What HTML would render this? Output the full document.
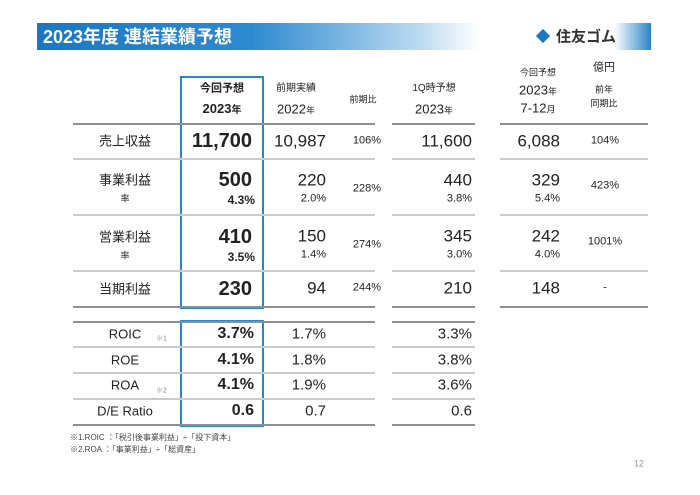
<!DOCTYPE html>
<html><head><meta charset="utf-8">
<style>
body{margin:0;width:700px;height:495px;background:#fff;position:relative;overflow:hidden;font-family:"Liberation Sans","Noto Sans CJK JP",sans-serif;color:#222}
.a{position:absolute;white-space:nowrap;transform:translateY(-50%);line-height:1}
.c{transform:translate(-50%,-50%);text-align:center}
.r{text-align:right}
.ln{position:absolute;height:1.5px;background:#8a9096}
.b{font-weight:bold}
</style></head><body>
<div style="position:absolute;left:37px;top:23px;width:614px;height:27px;background:linear-gradient(90deg,#1a78c2 0%,#2e8ad0 35%,#b9d9f0 62%,#fff 72%,#fff 94%,#2a84c8 100%)"></div>
<div class="a b" style="left:43px;top:37px;color:#fff;font-size:18px">2023年度 連結業績予想</div>
<div style="position:absolute;left:538px;top:31px;width:10px;height:10px;background:#1a78c2;transform:rotate(45deg)"></div>
<div class="a b" style="left:556px;top:37px;font-size:15px;color:#333">住友ゴム</div>

<div style="position:absolute;left:180px;top:76px;width:80px;height:229px;border:2px solid #2a86c6"></div>
<div style="position:absolute;left:180px;top:320px;width:80px;height:103px;border:2px solid #2a86c6"></div>

<div class="a c b" style="left:222px;top:89px;font-size:11px">今回予想</div>
<div class="a c b" style="left:222px;top:109px;font-size:13px">2023<span style="font-size:10px">年</span></div>
<div class="a c" style="left:296px;top:89px;font-size:10px">前期実績</div>
<div class="a c" style="left:296px;top:109px;font-size:13px">2022<span style="font-size:9px">年</span></div>
<div class="a c" style="left:363px;top:100px;font-size:9px">前期比</div>
<div class="a c" style="left:434px;top:89px;font-size:10px">1Q時予想</div>
<div class="a c" style="left:434px;top:109px;font-size:13px">2023<span style="font-size:9px">年</span></div>
<div class="a c" style="left:538px;top:73px;font-size:9px">今回予想</div>
<div class="a c" style="left:538px;top:90px;font-size:13px">2023<span style="font-size:9px">年</span></div>
<div class="a c" style="left:538px;top:108px;font-size:13px">7-12<span style="font-size:9px">月</span></div>
<div class="a c" style="left:604px;top:68px;font-size:11px">億円</div>
<div class="a c" style="left:604px;top:90px;font-size:9px">前年</div>
<div class="a c" style="left:604px;top:104px;font-size:9px">同期比</div>

<!-- lines upper -->
<div class="ln" style="left:73px;top:123px;width:302px"></div><div class="ln" style="left:392px;top:123px;width:83px"></div><div class="ln" style="left:500px;top:123px;width:148px"></div>
<div class="ln" style="left:73px;top:158px;width:302px;background:#c8ccd0"></div><div class="ln" style="left:392px;top:158px;width:83px;background:#c8ccd0"></div><div class="ln" style="left:500px;top:158px;width:148px;background:#c8ccd0"></div>
<div class="ln" style="left:73px;top:214px;width:302px;background:#c8ccd0"></div><div class="ln" style="left:392px;top:214px;width:83px;background:#c8ccd0"></div><div class="ln" style="left:500px;top:214px;width:148px;background:#c8ccd0"></div>
<div class="ln" style="left:73px;top:270px;width:302px;background:#c8ccd0"></div><div class="ln" style="left:392px;top:270px;width:83px;background:#c8ccd0"></div><div class="ln" style="left:500px;top:270px;width:148px;background:#c8ccd0"></div>
<div class="ln" style="left:73px;top:306px;width:302px"></div><div class="ln" style="left:392px;top:306px;width:83px"></div><div class="ln" style="left:500px;top:306px;width:148px"></div>

<!-- row: revenue -->
<div class="a c" style="left:125px;top:141px;font-size:13px">売上収益</div>
<div class="a r b" style="right:448px;top:141px;font-size:20px">11,700</div>
<div class="a r" style="right:374px;top:141px;font-size:17px">10,987</div>
<div class="a c" style="left:367px;top:141px;font-size:11px">106%</div>
<div class="a r" style="right:228px;top:141px;font-size:17px">11,600</div>
<div class="a r" style="right:140px;top:141px;font-size:17px">6,088</div>
<div class="a c" style="left:605px;top:141px;font-size:11px">104%</div>

<!-- business profit -->
<div class="a c" style="left:125px;top:180px;font-size:13px">事業利益</div>
<div class="a c" style="left:125px;top:199px;font-size:9px">率</div>
<div class="a r b" style="right:448px;top:180px;font-size:20px">500</div>
<div class="a r b" style="right:445px;top:200px;font-size:12px">4.3%</div>
<div class="a r" style="right:374px;top:180px;font-size:17px">220</div>
<div class="a r" style="right:374px;top:199px;font-size:11px">2.0%</div>
<div class="a c" style="left:367px;top:189px;font-size:11px">228%</div>
<div class="a r" style="right:228px;top:180px;font-size:17px">440</div>
<div class="a r" style="right:228px;top:199px;font-size:11px">3.8%</div>
<div class="a r" style="right:140px;top:180px;font-size:17px">329</div>
<div class="a r" style="right:140px;top:199px;font-size:11px">5.4%</div>
<div class="a c" style="left:605px;top:186px;font-size:11px">423%</div>

<!-- operating profit -->
<div class="a c" style="left:125px;top:237px;font-size:13px">営業利益</div>
<div class="a c" style="left:125px;top:256px;font-size:9px">率</div>
<div class="a r b" style="right:448px;top:237px;font-size:20px">410</div>
<div class="a r b" style="right:445px;top:257px;font-size:12px">3.5%</div>
<div class="a r" style="right:374px;top:236px;font-size:17px">150</div>
<div class="a r" style="right:374px;top:255px;font-size:11px">1.4%</div>
<div class="a c" style="left:367px;top:245px;font-size:11px">274%</div>
<div class="a r" style="right:228px;top:236px;font-size:17px">345</div>
<div class="a r" style="right:228px;top:255px;font-size:11px">3.0%</div>
<div class="a r" style="right:140px;top:236px;font-size:17px">242</div>
<div class="a r" style="right:140px;top:255px;font-size:11px">4.0%</div>
<div class="a c" style="left:605px;top:242px;font-size:11px">1001%</div>

<!-- net profit -->
<div class="a c" style="left:125px;top:289px;font-size:13px">当期利益</div>
<div class="a r b" style="right:448px;top:289px;font-size:20px">230</div>
<div class="a r" style="right:374px;top:288px;font-size:17px">94</div>
<div class="a c" style="left:367px;top:288px;font-size:11px">244%</div>
<div class="a r" style="right:228px;top:288px;font-size:17px">210</div>
<div class="a r" style="right:140px;top:288px;font-size:17px">148</div>
<div class="a c" style="left:605px;top:288px;font-size:11px">-</div>

<!-- lower table lines -->
<div class="ln" style="left:73px;top:321px;width:302px"></div><div class="ln" style="left:392px;top:321px;width:83px"></div>
<div class="ln" style="left:73px;top:346px;width:302px;background:#c8ccd0"></div><div class="ln" style="left:392px;top:346px;width:83px;background:#c8ccd0"></div>
<div class="ln" style="left:73px;top:372px;width:302px;background:#c8ccd0"></div><div class="ln" style="left:392px;top:372px;width:83px;background:#c8ccd0"></div>
<div class="ln" style="left:73px;top:398px;width:302px;background:#c8ccd0"></div><div class="ln" style="left:392px;top:398px;width:83px;background:#c8ccd0"></div>
<div class="ln" style="left:73px;top:424px;width:302px"></div><div class="ln" style="left:392px;top:424px;width:83px"></div>

<div class="a c" style="left:125px;top:334px;font-size:13px">ROIC</div>
<div class="a" style="left:156px;top:339px;font-size:7px;color:#888">※1</div>
<div class="a r b" style="right:446px;top:334px;font-size:16px">3.7%</div>
<div class="a r" style="right:374px;top:334px;font-size:15px">1.7%</div>
<div class="a r" style="right:228px;top:334px;font-size:15px">3.3%</div>

<div class="a c" style="left:125px;top:360px;font-size:13px">ROE</div>
<div class="a r b" style="right:446px;top:360px;font-size:16px">4.1%</div>
<div class="a r" style="right:374px;top:360px;font-size:15px">1.8%</div>
<div class="a r" style="right:228px;top:360px;font-size:15px">3.8%</div>

<div class="a c" style="left:125px;top:385px;font-size:13px">ROA</div>
<div class="a" style="left:156px;top:391px;font-size:7px;color:#888">※2</div>
<div class="a r b" style="right:446px;top:385px;font-size:16px">4.1%</div>
<div class="a r" style="right:374px;top:385px;font-size:15px">1.9%</div>
<div class="a r" style="right:228px;top:385px;font-size:15px">3.6%</div>

<div class="a c" style="left:125px;top:411px;font-size:13px">D/E Ratio</div>
<div class="a r b" style="right:446px;top:411px;font-size:16px">0.6</div>
<div class="a r" style="right:374px;top:411px;font-size:15px">0.7</div>
<div class="a r" style="right:228px;top:411px;font-size:15px">0.6</div>

<div class="a" style="left:70px;top:438px;font-size:8px;color:#444">※1.ROIC ：「税引後事業利益」÷「投下資本」</div>
<div class="a" style="left:70px;top:450px;font-size:8px;color:#444">※2.ROA ：「事業利益」÷「総資産」</div>
<div class="a" style="left:634px;top:464px;font-size:9px;color:#999">12</div>
</body></html>
